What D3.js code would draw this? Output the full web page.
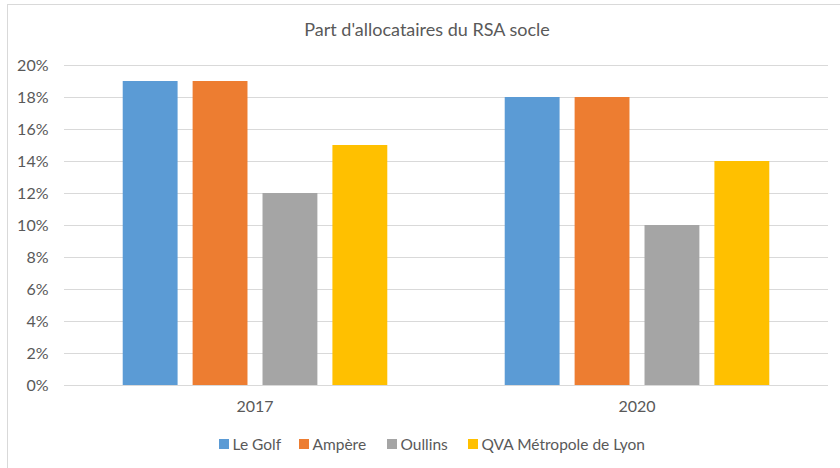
<!DOCTYPE html>
<html>
<head>
<meta charset="utf-8">
<script src="https://cdn.jsdelivr.net/npm/d3@7"></script>
<style>
  body { margin: 0; background: #fff; }
  svg text { font-family: Lato, "Liberation Sans", "Open Sans", sans-serif; fill: #595959; }
</style>
</head>
<body>
<svg id="chart" width="840" height="468"></svg>
<script>
var years = ['2017', '2020'];
var seriesNames = ['Le Golf', 'Ampère', 'Oullins', 'QVA Métropole de Lyon'];
var seriesColors = ['#5B9BD5', '#ED7D31', '#A5A5A5', '#FFC000'];
var leGolf = [0.19, 0.18];
var ampere = [0.19, 0.18];
var oullins = [0.12, 0.10];
var qva = [0.15, 0.14];
var yTicks = [0, 0.02, 0.04, 0.06, 0.08, 0.10, 0.12, 0.14, 0.16, 0.18, 0.20];

var values = [leGolf, ampere, oullins, qva];
var rows = [];
years.forEach((yr, i) => {
    seriesNames.forEach((s, j) => {
        rows.push({ year: yr, series: s, value: values[j][i], color: seriesColors[j] });
    });
});

var svg = d3.select('#chart');

// chart frame
svg.append('rect')
    .attr('x', 7.5).attr('y', 4.5)
    .attr('width', 840).attr('height', 470)
    .attr('fill', 'none').attr('stroke', '#d9d9d9');

var plot = { left: 64, right: 828, top: 65, bottom: 385 };

var x0 = d3.scaleBand().domain(years).range([plot.left, plot.right]).paddingInner(0).paddingOuter(0);
var x1 = d3.scaleBand().domain(seriesNames).range([0, x0.bandwidth()]).paddingInner(0.215).paddingOuter(0.84);
var y = d3.scaleLinear().domain([0, 0.2]).range([plot.bottom, plot.top]);

// gridlines
svg.append('g').selectAll('line').data(yTicks).enter().append('line')
    .attr('x1', plot.left).attr('x2', plot.right)
    .attr('y1', d => Math.round(y(d)) + 0.5).attr('y2', d => Math.round(y(d)) + 0.5)
    .attr('stroke', '#d9d9d9').attr('stroke-width', 1);

// y labels
svg.append('g').selectAll('text').data(yTicks).enter().append('text')
    .attr('x', 48.5).attr('y', d => y(d) + 5.5)
    .attr('text-anchor', 'end')
    .style('font-size', '16px')
    .text(d3.format('.0%'));

// bars
svg.append('g').selectAll('rect').data(rows).enter().append('rect')
    .attr('x', d => x0(d.year) + x1(d.series))
    .attr('y', d => y(d.value))
    .attr('width', x1.bandwidth())
    .attr('height', d => y(0) - y(d.value))
    .attr('fill', d => d.color);

// x labels
svg.append('g').selectAll('text').data(years).enter().append('text')
    .attr('x', d => x0(d) + x0.bandwidth() / 2)
    .attr('y', 412)
    .attr('text-anchor', 'middle')
    .style('font-size', '16px')
    .text(d => d);

// title
svg.append('text')
    .attr('x', 427).attr('y', 36)
    .attr('text-anchor', 'middle')
    .style('font-size', '18px')
    .text("Part d'allocataires du RSA socle");

// legend
var legendX = [219, 299, 387, 468];
var legend = svg.append('g').selectAll('g').data(seriesNames).enter().append('g')
    .attr('transform', (d, i) => 'translate(' + legendX[i] + ',439)');
legend.append('rect')
    .attr('width', 10).attr('height', 10)
    .attr('fill', (d, i) => seriesColors[i]);
legend.append('text')
    .attr('x', 13.5).attr('y', 10.5)
    .style('font-size', '15.5px')
    .text(d => d);
</script>
</body>
</html>
